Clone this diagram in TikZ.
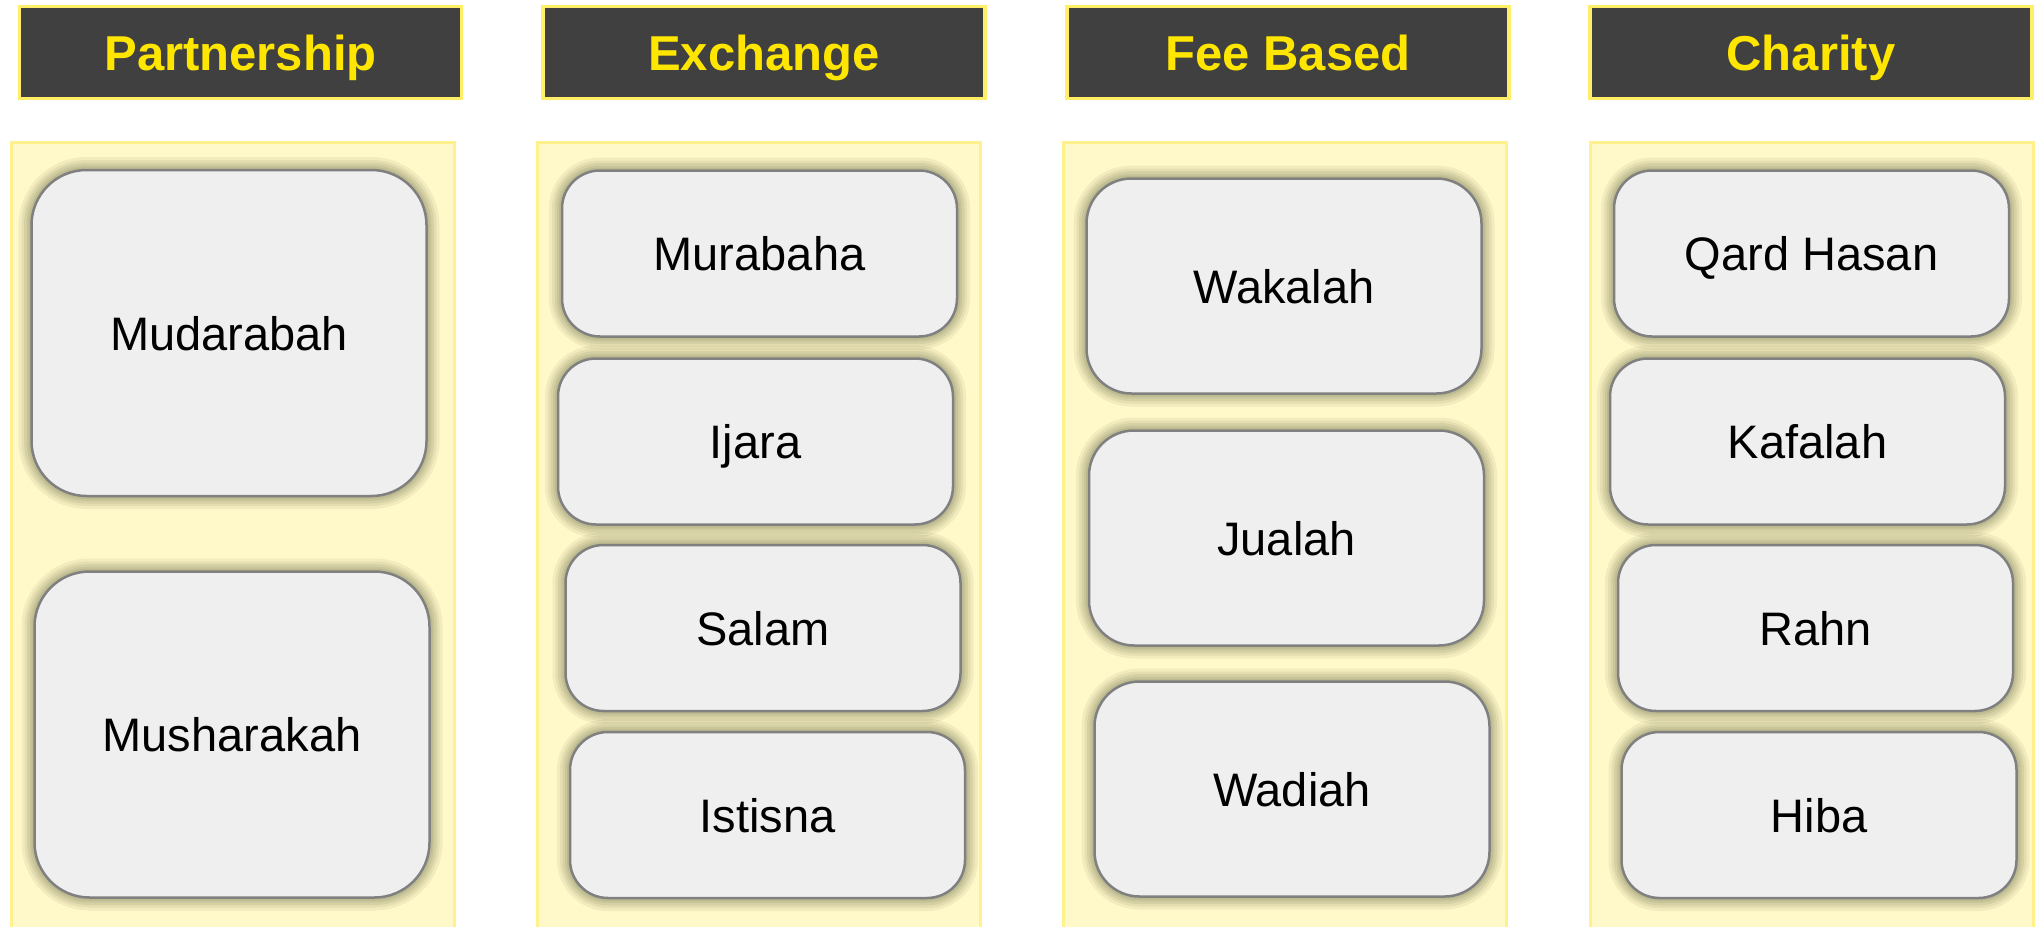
\documentclass[tikz,border=0pt]{standalone}
\usepackage{fontspec}
\setmainfont{Liberation Sans}
\definecolor{hdrfill}{HTML}{404040}
\definecolor{hdrtext}{HTML}{FFE600}
\definecolor{hdredge}{HTML}{FFEE66}
\definecolor{panelfill}{HTML}{FFF9C9}
\definecolor{paneledge}{HTML}{FFF28C}
\definecolor{itemfill}{HTML}{EFEFEF}
\definecolor{itemedge}{HTML}{808080}
\definecolor{glowcol}{HTML}{3A3A20}
\begin{document}
\begin{tikzpicture}[x=1pt,y=-1pt,
  header/.style={draw=hdredge, fill=hdrfill, line width=3.5pt, text=hdrtext,
    font=\fontsize{49}{58}\selectfont\bfseries, inner sep=0pt,
    text height=36pt, text depth=0pt,
    minimum width=442pt, minimum height=92pt},
  panel/.style={draw=paneledge, fill=panelfill, line width=3pt, inner sep=0pt,
    anchor=north west, minimum width=443pt, minimum height=820pt},
  % soft glow: stacked translucent strokes around the outline
  glow/.style={
    preaction={draw=glowcol, draw opacity=0.07, line width=26pt},
    preaction={draw=glowcol, draw opacity=0.07, line width=20pt},
    preaction={draw=glowcol, draw opacity=0.08, line width=15pt},
    preaction={draw=glowcol, draw opacity=0.08, line width=10pt},
    preaction={draw=glowcol, draw opacity=0.08, line width=6pt}},
  item/.style={glow, draw=itemedge, fill=itemfill, line width=2.5pt,
    font=\fontsize{47}{56}\selectfont, inner sep=0pt, minimum width=395pt,
    text height=34pt, text depth=0pt},
  tall/.style={item, minimum height=326pt, rounded corners=55pt},
  short/.style={item, minimum height=166pt, rounded corners=38pt},
  mid/.style={item, minimum height=215pt, rounded corners=45pt}
]
\useasboundingbox (0,0) rectangle (2041,926);
\clip (0,0) rectangle (2041,926);

% column headers
\node[header] (hP) at (240.5,52.5) {Partnership};
\node[header] (hE) at (764,52.5) {Exchange};
\node[header] (hF) at (1288,52.5) {Fee Based};
\node[header] (hC) at (1811,52.5) {Charity};

% column panels
\node[panel] (pP) at (10,141) {};
\node[panel] (pE) at (536,141) {};
\node[panel] (pF) at (1062,141) {};
\node[panel] (pC) at (1589,141) {};

% Partnership
\node[tall] (mud) at (229,333) {Mudarabah};
\node[tall] (mus) at (232,734.5) {Musharakah};

% Exchange
\node[short] (mur) at (759.5,253.5) {Murabaha};
\node[short] (ija) at (755.5,441.5) {Ijara};
\node[short] (sal) at (763,628) {Salam};
\node[short] (ist) at (767.5,815) {Istisna};

% Fee Based
\node[mid] (wak) at (1284,286) {Wakalah};
\node[mid] (jua) at (1286.5,538) {Jualah};
\node[mid] (wad) at (1292,789) {Wadiah};

% Charity
\node[short] (qar) at (1811.5,253.5) {Qard Hasan};
\node[short] (kaf) at (1807.5,441.5) {Kafalah};
\node[short] (rah) at (1815.5,628) {Rahn};
\node[short] (hib) at (1819,815) {Hiba};
\end{tikzpicture}
\end{document}
